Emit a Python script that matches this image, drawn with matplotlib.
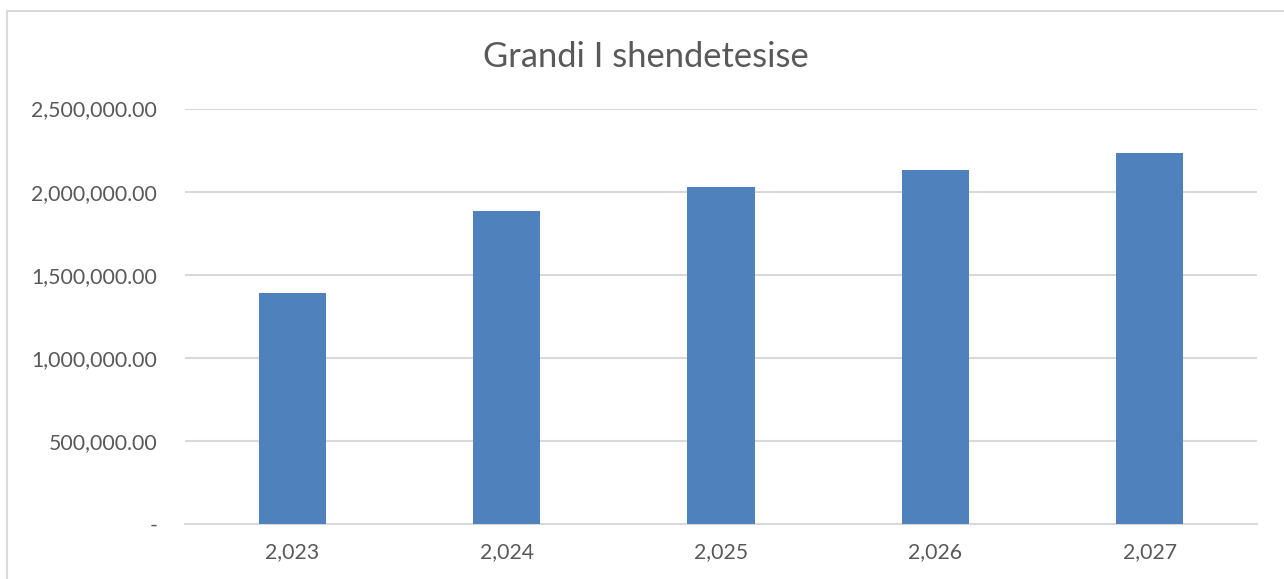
import matplotlib
matplotlib.use("Agg")
import matplotlib.pyplot as plt
from matplotlib.patches import Rectangle
from matplotlib.ticker import FuncFormatter

years = [2023, 2024, 2025, 2026, 2027]
values = [1390000, 1885000, 2030000, 2130000, 2230000]
title = "Grandi I shendetesise"

TEXT = "#595959"
GRID = "#D9D9D9"
BAR = "#4F81BD"

plt.rcParams["font.family"] = ["Lato", "DejaVu Sans"]

W, H = 1284, 579
fig = plt.figure(figsize=(W / 100, H / 100), dpi=100)

# chart border (cropped on the right and bottom)
fig.patches.append(Rectangle((7 / W, -0.1), 1.2, (H - 10.5) / H + 0.1,
                             transform=fig.transFigure, fill=False,
                             edgecolor=GRID, lw=1.5))

ax = fig.add_axes([185 / W, (H - 524) / H, (1257 - 185) / W, (524 - 108.5) / H])
x = list(range(len(years)))
ax.bar(x, values, width=0.313, color=BAR, zorder=3)

ax.set_xlim(-0.5, len(years) - 0.5)
ax.set_ylim(0, 2500000)
ax.set_yticks(range(0, 2500001, 500000))
ax.yaxis.set_major_formatter(FuncFormatter(lambda v, p: "-" if v == 0 else f"{v:,.2f}"))
ax.set_xticks(x)
ax.set_xticklabels([f"{y:,}" for y in years])
ax.tick_params(length=0, labelsize=15.3, labelcolor=TEXT)
ax.tick_params(axis="y", pad=20)
ax.tick_params(axis="x", pad=13)

ax.yaxis.grid(True, color=GRID, lw=1.5, zorder=0)
for s in ["top", "right", "left"]:
    ax.spines[s].set_visible(False)
ax.spines["bottom"].set_color(GRID)
ax.spines["bottom"].set_linewidth(1.5)

fig.text((485 + 807) / 2 / W, (H - 57) / H, title, ha="center", va="center",
         fontsize=24.8, color=TEXT)

fig.savefig("out.png", dpi=100)
